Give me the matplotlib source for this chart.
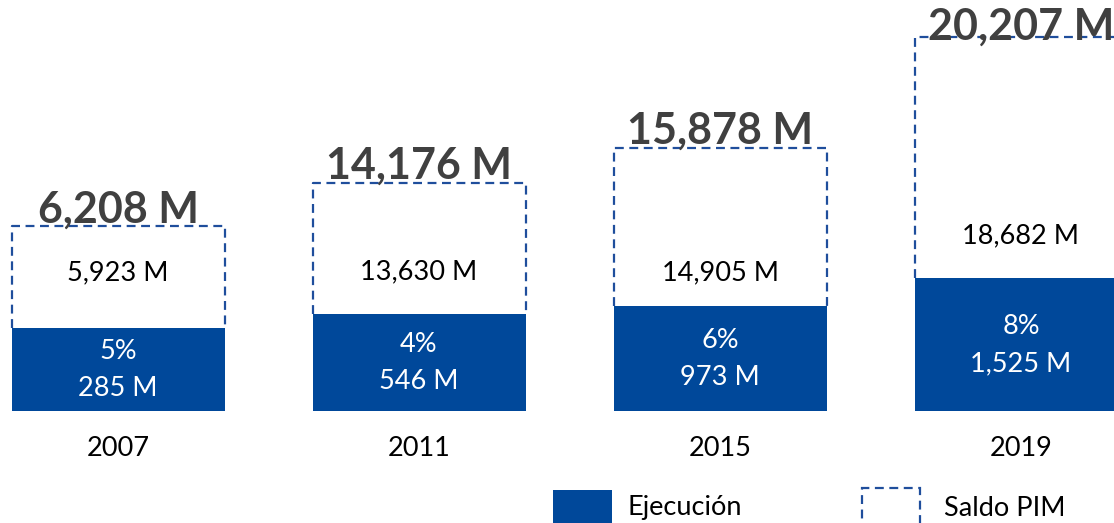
import matplotlib.pyplot as plt
from matplotlib.patches import Rectangle

# Datos (millones)
anios = ["2007", "2011", "2015", "2019"]
pim_total = ["6,208 M", "14,176 M", "15,878 M", "20,207 M"]
ejecucion = ["285 M", "546 M", "973 M", "1,525 M"]
saldo_pim = ["5,923 M", "13,630 M", "14,905 M", "18,682 M"]
porcentaje = ["5%", "4%", "6%", "8%"]

# Alturas dibujadas en la lamina original (no proporcionales)
alto_ejec = [83, 97, 105, 133]
alto_total = [185, 228, 263, 374]
y_saldo = [138, 139, 138, 175]
y_total = [201, 245, 280, 384]

azul = "#00489A"
azul_linea = "#1F4E9C"
gris = "#404040"
guiones = (0, (4, 2.5))

plt.rcParams["font.family"] = ["Lato", "DejaVu Sans"]

fig = plt.figure(figsize=(11.14, 5.23), dpi=100)
ax = fig.add_axes([0, 0, 1, 1])
ax.set_xlim(-118 / 301, (1114 - 118) / 301)
ax.set_ylim(-112, 411)
ax.axis("off")

x = list(range(len(anios)))
ancho = 213 / 301
fs = 19.5

# barra de ejecucion
ax.bar(x, alto_ejec, width=ancho, color=azul, zorder=2)

for i in x:
    # caja punteada del saldo PIM (tres lados)
    x0, x1 = i - ancho / 2, i + ancho / 2
    ax.plot([x0, x0, x1, x1], [alto_ejec[i], alto_total[i], alto_total[i], alto_ejec[i]],
            color=azul_linea, linestyle=guiones, linewidth=1.6, zorder=1)

    ax.text(i, y_total[i], pim_total[i], ha="center", va="center",
            fontsize=31, fontweight="bold", color=gris, zorder=3)
    ax.text(i, y_saldo[i], saldo_pim[i], ha="center", va="center",
            fontsize=fs, color="black", zorder=3)
    centro = alto_ejec[i] / 2
    ax.text(i, centro + 18, porcentaje[i], ha="center", va="center",
            fontsize=fs, color="white", zorder=3)
    ax.text(i, centro - 19, ejecucion[i], ha="center", va="center",
            fontsize=fs, color="white", zorder=3)
    ax.text(i, -37, anios[i], ha="center", va="center",
            fontsize=fs, color="black")

# Leyenda
u = 1 / 301
ax.add_patch(Rectangle(((553 - 118) * u, -125), 59 * u, 46,
                       facecolor=azul, edgecolor="none", clip_on=False))
ax.text((628 - 118) * u, -97, "Ejecución", ha="left", va="center",
        fontsize=fs, color="black")
ax.add_patch(Rectangle(((862 - 118) * u, -125), 58 * u, 48,
                       facecolor="none", edgecolor=azul_linea,
                       linestyle=guiones, linewidth=1.6, clip_on=False))
ax.text((944 - 118) * u, -97, "Saldo PIM", ha="left", va="center",
        fontsize=fs, color="black")

fig.savefig("out.png", dpi=100)
